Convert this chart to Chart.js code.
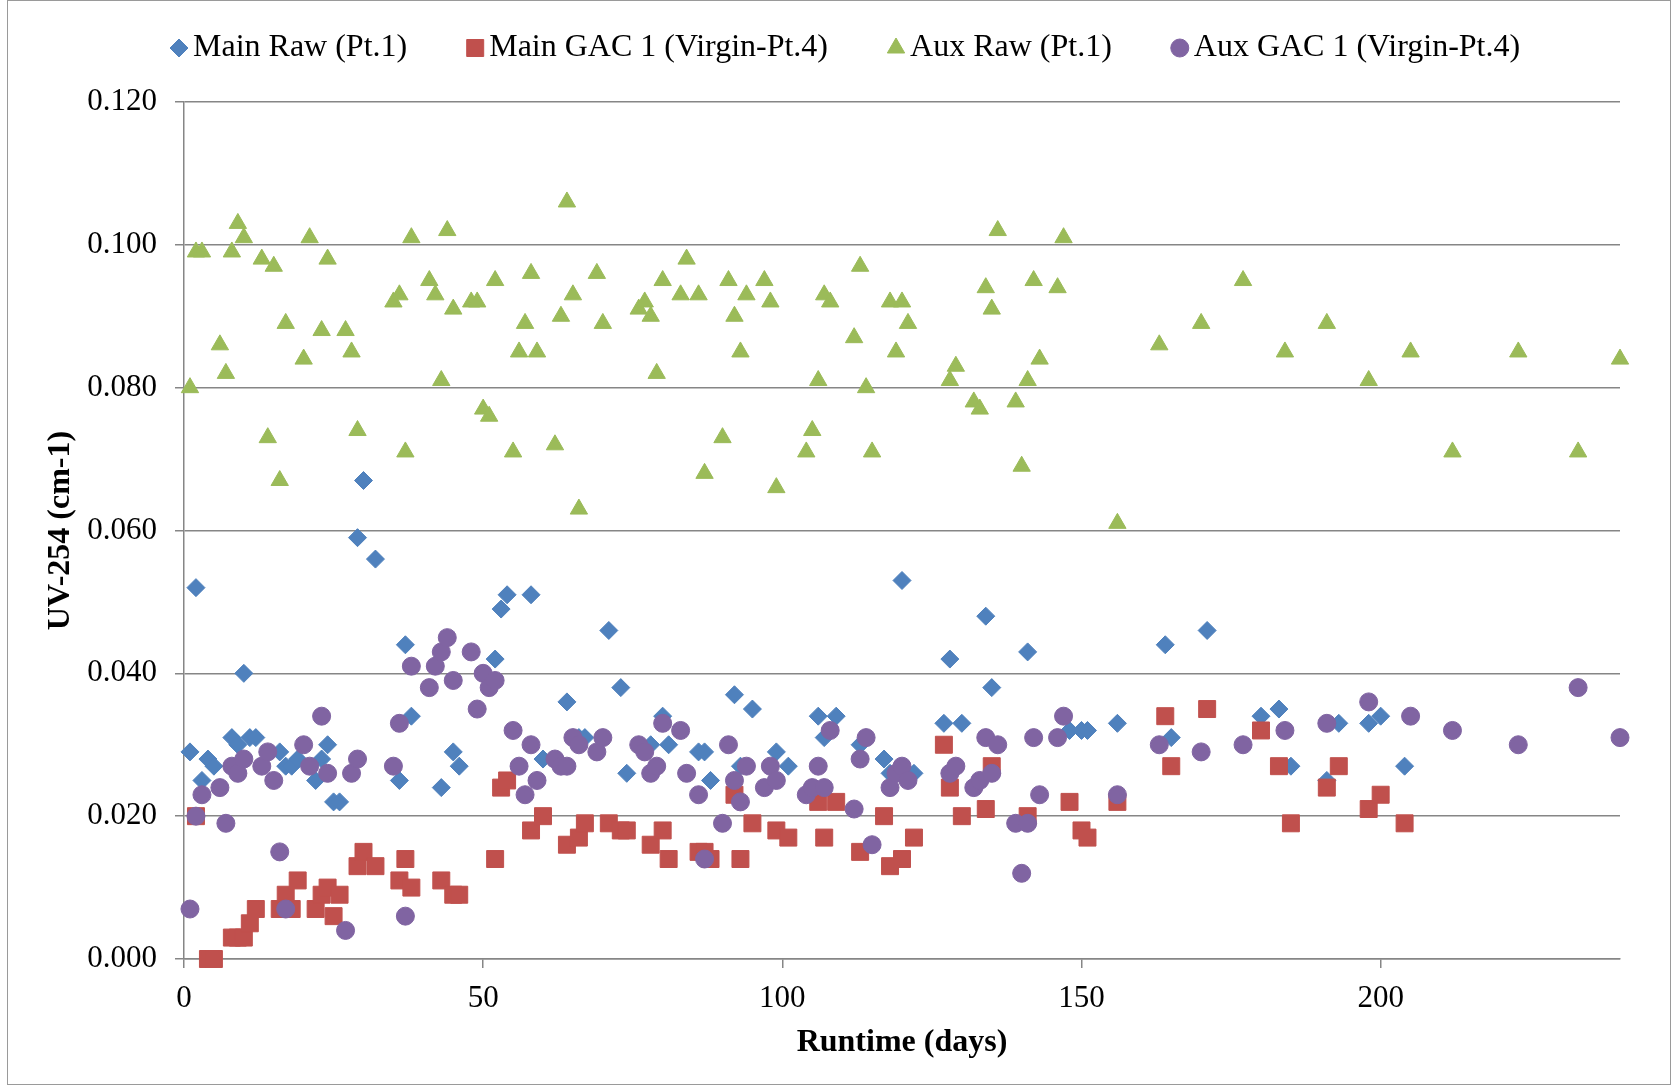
<!DOCTYPE html>
<html>
<head>
<meta charset="utf-8">
<script src="https://cdn.jsdelivr.net/npm/chart.js@4.4.1/dist/chart.umd.min.js"></script>
<style>
  html, body { margin: 0; padding: 0; background: #fff; }
  #graficoContainer { width: 1671px; height: 1089px; position: relative; }
</style>
</head>
<body>
<div id="graficoContainer"><canvas id="graficoUV"></canvas></div>
<script>
// Runtime (days) and UV-254 (cm-1) per sampling point
const mainRawDays = [1, 2, 3, 4, 5, 8, 9, 10, 11, 12, 16, 17, 18, 19, 22, 23, 24, 25, 26, 29, 30, 32, 36, 37, 38, 43, 45, 46, 52, 53, 54, 58, 60, 64, 66, 67, 71, 73, 74, 78, 80, 81, 86, 87, 88, 92, 93, 95, 99, 101, 106, 107, 109, 113, 117, 118, 120, 122, 127, 128, 130, 134, 135, 141, 148, 150, 151, 156, 164, 165, 171, 180, 183, 185, 191, 193, 198, 200, 204];
const mainRaw = [0.029, 0.052, 0.025, 0.028, 0.027, 0.031, 0.030, 0.040, 0.031, 0.031, 0.029, 0.027, 0.027, 0.028, 0.025, 0.028, 0.030, 0.022, 0.022, 0.059, 0.067, 0.056, 0.025, 0.044, 0.034, 0.024, 0.029, 0.027, 0.042, 0.049, 0.051, 0.051, 0.028, 0.036, 0.031, 0.031, 0.046, 0.038, 0.026, 0.030, 0.034, 0.030, 0.029, 0.029, 0.025, 0.037, 0.027, 0.035, 0.029, 0.027, 0.034, 0.031, 0.034, 0.030, 0.028, 0.026, 0.053, 0.026, 0.033, 0.042, 0.033, 0.048, 0.038, 0.043, 0.032, 0.032, 0.032, 0.033, 0.044, 0.031, 0.046, 0.034, 0.035, 0.027, 0.025, 0.033, 0.033, 0.034, 0.027];

const mainGacDays = [2, 4, 5, 8, 9, 10, 11, 12, 16, 17, 18, 19, 22, 23, 24, 25, 26, 29, 30, 32, 36, 37, 38, 43, 45, 46, 52, 53, 54, 58, 60, 64, 66, 67, 71, 73, 74, 78, 80, 81, 86, 87, 88, 92, 93, 95, 99, 101, 106, 107, 109, 113, 117, 118, 120, 122, 127, 128, 130, 134, 135, 141, 148, 150, 151, 156, 164, 165, 171, 180, 183, 185, 191, 193, 198, 200, 204];
const mainGac = [0.020, 0.000, 0.000, 0.003, 0.003, 0.003, 0.005, 0.007, 0.007, 0.009, 0.007, 0.011, 0.007, 0.009, 0.010, 0.006, 0.009, 0.013, 0.015, 0.013, 0.011, 0.014, 0.010, 0.011, 0.009, 0.009, 0.014, 0.024, 0.025, 0.018, 0.020, 0.016, 0.017, 0.019, 0.019, 0.018, 0.018, 0.016, 0.018, 0.014, 0.015, 0.015, 0.014, 0.023, 0.014, 0.019, 0.018, 0.017, 0.022, 0.017, 0.022, 0.015, 0.020, 0.013, 0.014, 0.017, 0.030, 0.024, 0.020, 0.021, 0.027, 0.020, 0.022, 0.018, 0.017, 0.022, 0.034, 0.027, 0.035, 0.032, 0.027, 0.019, 0.024, 0.027, 0.021, 0.023, 0.019];

const auxDays = [1, 2, 3, 6, 7, 8, 9, 10, 13, 14, 15, 16, 17, 20, 21, 23, 24, 27, 28, 29, 35, 36, 37, 38, 41, 42, 43, 44, 45, 48, 49, 50, 51, 52, 55, 56, 57, 58, 59, 62, 63, 64, 65, 66, 69, 70, 76, 77, 78, 79, 80, 83, 84, 86, 87, 90, 91, 92, 93, 94, 97, 98, 99, 104, 105, 106, 107, 108, 112, 113, 114, 115, 118, 119, 120, 121, 128, 129, 132, 133, 134, 135, 136, 139, 140, 141, 142, 143, 146, 147, 156, 163, 170, 177, 184, 191, 198, 205, 212, 223, 233, 240];
const auxRaw = [0.080, 0.099, 0.099, 0.086, 0.082, 0.099, 0.103, 0.101, 0.098, 0.073, 0.097, 0.067, 0.089, 0.084, 0.101, 0.088, 0.098, 0.088, 0.085, 0.074, 0.092, 0.093, 0.071, 0.101, 0.095, 0.093, 0.081, 0.102, 0.091, 0.092, 0.092, 0.077, 0.076, 0.095, 0.071, 0.085, 0.089, 0.096, 0.085, 0.072, 0.090, 0.106, 0.093, 0.063, 0.096, 0.089, 0.091, 0.092, 0.090, 0.082, 0.095, 0.093, 0.098, 0.093, 0.068, 0.073, 0.095, 0.090, 0.085, 0.093, 0.095, 0.092, 0.066, 0.071, 0.074, 0.081, 0.093, 0.092, 0.087, 0.097, 0.080, 0.071, 0.092, 0.085, 0.092, 0.089, 0.081, 0.083, 0.078, 0.077, 0.094, 0.091, 0.102, 0.078, 0.069, 0.081, 0.095, 0.084, 0.094, 0.101, 0.061, 0.086, 0.089, 0.095, 0.085, 0.089, 0.081, 0.085, 0.071, 0.085, 0.071, 0.084];
const auxGac = [0.007, 0.020, 0.023, 0.024, 0.019, 0.027, 0.026, 0.028, 0.027, 0.029, 0.025, 0.015, 0.007, 0.030, 0.027, 0.034, 0.026, 0.004, 0.026, 0.028, 0.027, 0.033, 0.006, 0.041, 0.038, 0.041, 0.043, 0.045, 0.039, 0.043, 0.035, 0.040, 0.038, 0.039, 0.032, 0.027, 0.023, 0.030, 0.025, 0.028, 0.027, 0.027, 0.031, 0.030, 0.029, 0.031, 0.030, 0.029, 0.026, 0.027, 0.033, 0.032, 0.026, 0.023, 0.014, 0.019, 0.030, 0.025, 0.022, 0.027, 0.024, 0.027, 0.025, 0.023, 0.024, 0.027, 0.024, 0.032, 0.021, 0.028, 0.031, 0.016, 0.024, 0.026, 0.027, 0.025, 0.026, 0.027, 0.024, 0.025, 0.031, 0.026, 0.030, 0.019, 0.012, 0.019, 0.031, 0.023, 0.031, 0.034, 0.023, 0.030, 0.029, 0.030, 0.032, 0.033, 0.036, 0.034, 0.032, 0.030, 0.038, 0.031];

const seriesNames = ['Main Raw (Pt.1)', 'Main GAC 1 (Virgin-Pt.4)', 'Aux Raw (Pt.1)', 'Aux GAC 1 (Virgin-Pt.4)'];
const yTicks = [0, 0.02, 0.04, 0.06, 0.08, 0.10, 0.12];
const xTicks = [0, 50, 100, 150, 200];

const serif = '"Liberation Serif", "Times New Roman", serif';

function puntos(dias, valores) {
    return dias.map((d, i) => ({ x: d, y: valores[i] }));
}

// fondo blanco y marco del área del gráfico
const marco = {
    id: 'marco',
    beforeDraw(chart) {
        const ctx = chart.ctx;
        ctx.save();
        ctx.fillStyle = '#fff';
        ctx.fillRect(0, 0, chart.width, chart.height);
        ctx.restore();
    },
    afterDraw(chart) {
        const ctx = chart.ctx;
        ctx.save();
        ctx.strokeStyle = '#9a9a9a';
        ctx.lineWidth = 1;
        ctx.strokeRect(7.5, 0.5, chart.width - 8, 1084);
        ctx.restore();
    }
};

// leyenda en una sola fila sobre el gráfico
const leyenda = {
    id: 'leyenda',
    afterDraw(chart) {
        const ctx = chart.ctx;
        const y = 48;
        let x = 179;
        ctx.save();
        ctx.font = '32px ' + serif;
        ctx.textBaseline = 'middle';
        ctx.textAlign = 'left';
        chart.data.datasets.forEach(ds => {
            ctx.fillStyle = ds.backgroundColor;
            ctx.strokeStyle = ds.borderColor;
            ctx.lineWidth = 1;
            Chart.helpers.drawPoint(ctx, { pointStyle: ds.pointStyle, radius: ds.pointRadius, rotation: 0, borderWidth: 1 }, x, y);
            ctx.fillStyle = '#000';
            const tx = x + 14;
            ctx.fillText(ds.label, tx, y);
            x = tx + ctx.measureText(ds.label).width + 68;
        });
        ctx.restore();
    }
};

const ctx = document.getElementById('graficoUV').getContext('2d');

const chart = new Chart(ctx, {
    type: 'scatter',
    data: {
        datasets: [
            {
                label: seriesNames[0],
                data: puntos(mainRawDays, mainRaw),
                pointStyle: 'rectRot',
                pointRadius: 9,
                backgroundColor: '#4F81BD',
                borderColor: '#4F81BD',
                borderWidth: 1,
                order: 3,
                clip: false
            },
            {
                label: seriesNames[1],
                data: puntos(mainGacDays, mainGac),
                pointStyle: 'rect',
                pointRadius: 12,
                backgroundColor: '#C0504D',
                borderColor: '#C0504D',
                borderWidth: 1,
                order: 2,
                clip: false
            },
            {
                label: seriesNames[2],
                data: puntos(auxDays, auxRaw),
                pointStyle: 'triangle',
                pointRadius: 10,
                backgroundColor: '#9BBB59',
                borderColor: '#9BBB59',
                borderWidth: 1,
                order: 1,
                clip: false
            },
            {
                label: seriesNames[3],
                data: puntos(auxDays, auxGac),
                pointStyle: 'circle',
                pointRadius: 9,
                backgroundColor: '#8064A2',
                borderColor: '#8064A2',
                borderWidth: 1,
                order: 0,
                clip: false
            }
        ]
    },
    options: {
        responsive: true,
        maintainAspectRatio: false,
        animation: false,
        devicePixelRatio: 1,
        events: [],
        layout: {
            padding: { top: 102, right: 51, bottom: 0, left: 0 }
        },
        plugins: {
            legend: { display: false },
            tooltip: { enabled: false }
        },
        scales: {
            x: {
                type: 'linear',
                position: 'bottom',
                min: xTicks[0],
                max: 240,
                afterBuildTicks: scale => { scale.ticks = xTicks.map(v => ({ value: v })); },
                afterFit: scale => { scale.height = 130; },
                ticks: {
                    color: '#000',
                    font: { family: serif, size: 31 },
                    padding: 12,
                    maxRotation: 0
                },
                grid: {
                    drawOnChartArea: false,
                    drawTicks: true,
                    tickLength: 9,
                    color: '#868686',
                    lineWidth: 1.5
                },
                border: { display: true, color: '#868686', width: 1.5 },
                title: {
                    display: true,
                    text: 'Runtime (days)',
                    color: '#000',
                    font: { family: serif, size: 32, weight: 'bold' },
                    padding: { top: 0, bottom: 27 }
                }
            },
            y: {
                min: yTicks[0],
                max: yTicks[yTicks.length - 1],
                afterBuildTicks: scale => { scale.ticks = yTicks.map(v => ({ value: v })); },
                afterFit: scale => { scale.width = 184; },
                ticks: {
                    color: '#000',
                    font: { family: serif, size: 31 },
                    padding: 18,
                    callback: v => v.toFixed(3)
                },
                grid: {
                    color: '#868686',
                    lineWidth: 1.5,
                    tickLength: 9
                },
                border: { display: true, color: '#868686', width: 1.5 },
                title: {
                    display: true,
                    text: 'UV-254 (cm-1)',
                    color: '#000',
                    font: { family: serif, size: 32, weight: 'bold' },
                    padding: { top: 42, bottom: 0 }
                }
            }
        }
    },
    plugins: [marco, leyenda]
});
</script>
</body>
</html>
